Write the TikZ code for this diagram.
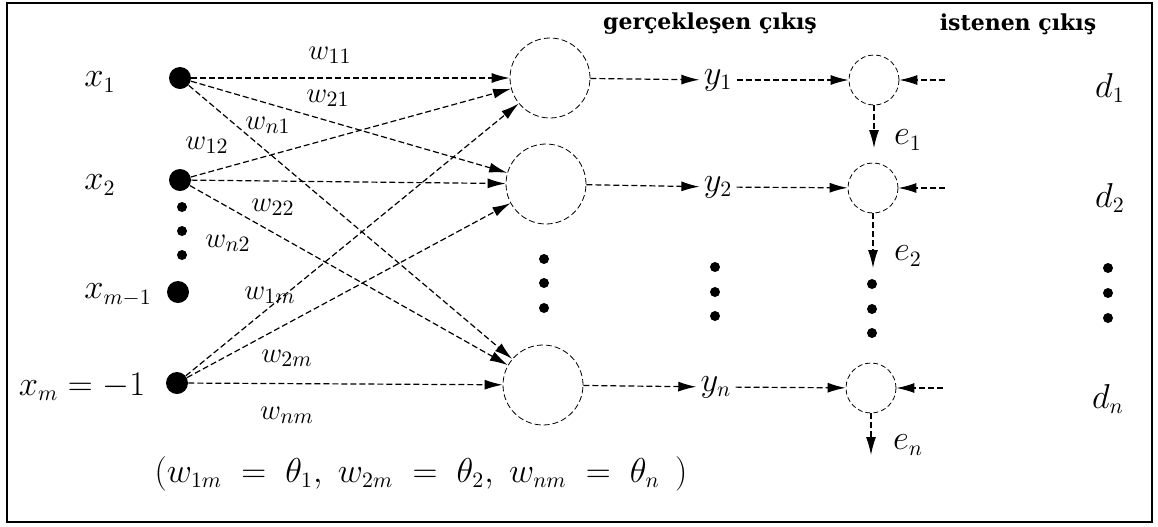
\documentclass[tikz,border=0pt]{standalone}
\usepackage{fontspec}
\newfontfamily\headfont{DejaVu Serif}
\usetikzlibrary{arrows.meta}

\begin{document}
\begin{tikzpicture}[
  x=0.5pt, y=-0.5pt,
  neuron/.style={draw, circle, dash pattern=on 3pt off 1.5pt, minimum size=40pt, inner sep=0pt},
  errnode/.style={draw, circle, dash pattern=on 2.5pt off 1.5pt, minimum size=25pt, inner sep=0pt},
  inp/.style={circle, fill=black, minimum size=11pt, inner sep=0pt},
  dot/.style={circle, fill=black, minimum size=5pt, inner sep=0pt},
  lbl/.style={font=\fontsize{16}{19}\selectfont, inner sep=2pt},
  wlbl/.style={font=\fontsize{15}{18}\selectfont, inner sep=1pt},
  head/.style={font=\headfont\bfseries\fontsize{11}{13}\selectfont},
  arrow/.style={-{Latex[length=9pt, width=5pt]}, semithick, dash pattern=on 3pt off 1.5pt}
]
  \useasboundingbox (0,0) rectangle (1158,526);
  \draw[line width=1.2pt] (7,3) rectangle (1152,522);

  \node[head] (hreal) at (710,24) {gerçekleşen çıkış};
  \node[head] (hwant) at (1018,24) {istenen çıkış};

  \node[inp] (x1) at (180,78) {};
  \node[inp] (x2) at (180,180) {};
  \node[inp] (xm1) at (178,292) {};
  \node[inp] (xm) at (177,383) {};
  \foreach \yy [count=\i] in {207,231,255}
    \node[dot] (xd\i) at (182,\yy) {};

  \node[lbl] (lx1) at (100,82) {$x_1$};
  \node[lbl] (lx2) at (100,185) {$x_2$};
  \node[lbl] (lxm1) at (118,295) {$x_{m-1}$};
  \node[lbl] (lxm) at (82,387) {$x_m = -1$};

  \node[neuron] (n1) at (550,78) {};
  \node[neuron] (n2) at (546,184) {};
  \node[neuron] (nn) at (543,385) {};
  \foreach \yy [count=\i] in {259,283,308}
    \node[dot] (nd\i) at (544,\yy) {};

  \draw[arrow] (x1) -- (n1);
  \draw[arrow] (x1) -- (n2);
  \draw[arrow] (x1) -- (nn);
  \draw[arrow] (x2) -- (n1);
  \draw[arrow] (x2) -- (n2);
  \draw[arrow] (x2) -- (nn);
  \draw[arrow] (xm) -- (n1);
  \draw[arrow] (xm) -- (n2);
  \draw[arrow] (xm) -- (nn);

  \node[wlbl] (w11) at (330,55) {$w_{11}$};
  \node[wlbl] (w21) at (328,98) {$w_{21}$};
  \node[wlbl] (wn1) at (268,125) {$w_{n1}$};
  \node[wlbl] (w12) at (207,145) {$w_{12}$};
  \node[wlbl] (w22) at (273,207) {$w_{22}$};
  \node[wlbl] (wn2) at (228,243) {$w_{n2}$};
  \node[wlbl] (w1m) at (270,295) {$w_{1m}$};
  \node[wlbl] (w2m) at (287,358) {$w_{2m}$};
  \node[wlbl] (wnm) at (287,415) {$w_{nm}$};

  \node[lbl] (y1) at (718,80) {$y_1$};
  \node[lbl] (y2) at (718,187) {$y_2$};
  \node[lbl] (yn) at (716,387) {$y_n$};
  \foreach \yy [count=\i] in {267,292,316}
    \node[dot] (yd\i) at (715,\yy) {};

  \draw[arrow] (n1) -- (y1);
  \draw[arrow] (n2) -- (y2);
  \draw[arrow] (nn) -- (yn);

  \node[errnode] (c1) at (874,80) {};
  \node[errnode] (c2) at (873,188) {};
  \node[errnode] (cn) at (871,388) {};
  \foreach \yy [count=\i] in {284,309,333}
    \node[dot] (cd\i) at (872,\yy) {};

  \coordinate (d1in) at (945,80);
  \coordinate (d2in) at (945,188);
  \coordinate (dnin) at (943,388);
  \coordinate (e1end) at (874,148);
  \coordinate (e2end) at (873,268);
  \coordinate (enend) at (871,455);

  \draw[arrow] (y1) -- (c1);
  \draw[arrow] (y2) -- (c2);
  \draw[arrow] (yn) -- (cn);
  \draw[arrow] (d1in) -- (c1);
  \draw[arrow] (d2in) -- (c2);
  \draw[arrow] (dnin) -- (cn);
  \draw[arrow] (c1) -- (e1end);
  \draw[arrow] (c2) -- (e2end);
  \draw[arrow] (cn) -- (enend);

  \node[lbl] (le1) at (908,140) {$e_1$};
  \node[lbl] (le2) at (908,256) {$e_2$};
  \node[lbl] (len) at (908,445) {$e_n$};

  \node[lbl] (ld1) at (1110,88) {$d_1$};
  \node[lbl] (ld2) at (1110,198) {$d_2$};
  \node[lbl] (ldn) at (1108,399) {$d_n$};
  \foreach \yy [count=\i] in {268,293,318}
    \node[dot] (dd\i) at (1108,\yy) {};

  \node[lbl] (theta) at (421,474) {$(w_{1m} \;=\; \theta_1,\; w_{2m} \;=\; \theta_2,\; w_{nm} \;=\; \theta_n\;\,)$};
\end{tikzpicture}
\end{document}
